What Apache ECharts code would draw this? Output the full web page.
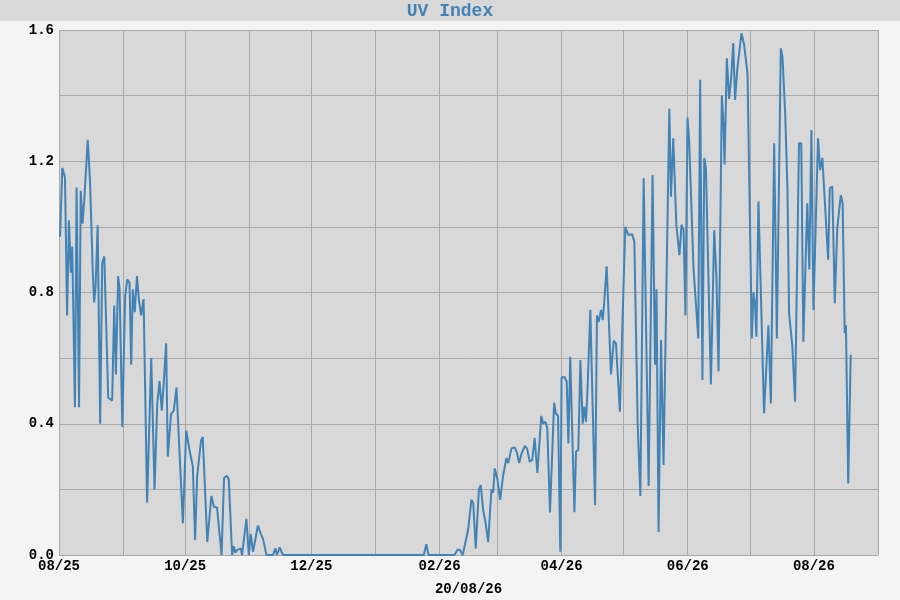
<!DOCTYPE html>
<html>
<head>
<meta charset="utf-8">
<title>UV Index</title>
<script src="https://cdn.jsdelivr.net/npm/echarts@6/dist/echarts.min.js"></script>
<style>
  html, body { margin: 0; padding: 0; background: #f4f4f4; }
  #chart { width: 900px; height: 600px; }
</style>
</head>
<body>
<div id="chart"></div>
<script>
// first sample is 1 Aug 2025, offsets are in days
var startYear = 2025, startMonth = 7, startDay = 1;
var dayOffsets = [
  0.5, 1.6, 2.9, 3.9, 4.8, 5.7, 6.4, 7.7, 8.5, 9.7, 10.5, 11.4, 12.2, 13.9, 15.0, 16.3, 17.0, 17.7, 18.7, 19.9,
  20.9, 21.9, 23.8, 25.7, 26.7, 27.5, 28.6, 29.3, 30.6, 32.0, 33.0, 34.1, 34.9, 35.7, 36.6, 37.7, 38.6, 39.7, 40.9, 42.6,
  44.6, 46.2, 47.5, 48.6, 49.7, 50.6, 51.8, 52.6, 54.2, 55.5, 56.8, 59.9, 61.5, 63.1, 64.7, 65.8, 66.8, 68.7, 69.5, 71.7,
  73.7, 74.9, 76.4, 78.6, 79.8, 81.1, 82.1, 83.7, 84.5, 85.3, 86.1, 87.9, 88.5, 90.6, 91.8, 92.7, 93.8, 96.2, 97.5, 98.6,
  100.3, 103.5, 104.6, 105.4, 106.7, 108.3, 176.4, 177.6, 178.7, 191.2, 192.8, 193.9, 195.2, 196.1, 197.8, 199.4, 200.3, 201.5, 203.0, 203.9,
  205.1, 206.2, 207.5, 209.1, 209.9, 210.7, 212.0, 213.3, 214.7, 216.3, 217.2, 218.8, 220.4, 221.5, 222.5, 223.6, 225.2, 226.3, 227.6, 228.8,
  230.0, 231.3, 232.4, 233.2, 234.1, 235.2, 236.1, 237.4, 239.4, 240.2, 241.3, 242.4, 243.0, 244.4, 245.5, 246.3, 247.2, 249.2, 250.0, 251.1,
  252.1, 253.2, 254.0, 254.8, 255.6, 256.9, 259.2, 260.1, 260.9, 262.1, 262.9, 263.7, 264.8, 266.9, 268.2, 269.3, 271.2, 273.8, 275.3, 277.1,
  278.2, 279.8, 281.1, 282.7, 285.1, 287.0, 288.2, 288.9, 289.9, 291.1, 292.3, 295.1, 295.9, 297.0, 298.5, 299.4, 300.0, 301.0, 302.0, 302.9,
  303.9, 304.7, 306.8, 309.1, 310.0, 311.1, 312.0, 312.8, 315.2, 316.8, 317.9, 318.9, 320.5, 321.3, 321.8, 322.9, 324.0, 325.0, 326.0, 326.9,
  328.0, 330.0, 331.3, 332.9, 335.0, 335.8, 336.5, 337.2, 338.2, 340.9, 343.0, 344.2, 345.8, 347.1, 349.0, 349.8, 351.1, 352.2, 353.0, 354.6,
  355.9, 357.8, 358.9, 359.9, 361.8, 362.8, 363.8, 364.8, 367.0, 368.0, 369.1, 371.9, 372.7, 373.9, 375.1, 376.3, 378.0, 378.9, 379.9, 380.5,
  381.6, 382.8
];
var uvIndex = [
  0.97, 1.18, 1.15, 0.73, 1.02, 0.86, 0.94, 0.45, 1.12, 0.45, 1.11, 1.01, 1.08, 1.265, 1.14, 0.87, 0.77, 0.82, 1.005, 0.40,
  0.89, 0.91, 0.48, 0.47, 0.76, 0.55, 0.85, 0.81, 0.39, 0.79, 0.84, 0.83, 0.58, 0.81, 0.74, 0.85, 0.78, 0.73, 0.78, 0.16,
  0.60, 0.20, 0.46, 0.53, 0.44, 0.52, 0.645, 0.30, 0.43, 0.44, 0.51, 0.097, 0.38, 0.32, 0.27, 0.046, 0.24, 0.35, 0.36, 0.04,
  0.18, 0.147, 0.145, 0.0, 0.234, 0.242, 0.23, 0.0, 0.027, 0.007, 0.015, 0.02, 0.0, 0.11, 0.0, 0.064, 0.01, 0.09, 0.066, 0.05,
  0.0, 0.0, 0.02, 0.0, 0.023, 0.0, 0.0, 0.033, 0.0, 0.0, 0.017, 0.015, 0.0, 0.0, 0.076, 0.168, 0.158, 0.02, 0.198, 0.213,
  0.137, 0.10, 0.04, 0.20, 0.19, 0.264, 0.23, 0.168, 0.24, 0.295, 0.28, 0.325, 0.328, 0.31, 0.28, 0.308, 0.332, 0.325, 0.284, 0.29,
  0.356, 0.25, 0.35, 0.424, 0.40, 0.406, 0.386, 0.13, 0.464, 0.432, 0.424, 0.01, 0.54, 0.543, 0.528, 0.34, 0.604, 0.13, 0.315, 0.32,
  0.594, 0.40, 0.452, 0.406, 0.513, 0.747, 0.152, 0.73, 0.71, 0.747, 0.716, 0.777, 0.88, 0.55, 0.653, 0.645, 0.437, 1.00, 0.975, 0.978,
  0.955, 0.40, 0.18, 1.148, 0.21, 1.158, 0.58, 0.81, 0.07, 0.655, 0.274, 1.36, 1.092, 1.27, 1.006, 1.00, 0.914, 1.006, 0.99, 0.73,
  1.333, 1.26, 0.874, 0.66, 1.448, 0.533, 1.21, 1.18, 0.52, 0.99, 0.843, 0.56, 1.40, 1.31, 1.19, 1.514, 1.39, 1.453, 1.56, 1.387,
  1.483, 1.59, 1.554, 1.468, 0.66, 0.80, 0.77, 0.665, 1.077, 0.432, 0.70, 0.462, 1.255, 0.66, 1.544, 1.519, 1.35, 1.12, 0.737, 0.635,
  0.467, 1.255, 1.255, 0.65, 1.072, 0.87, 1.295, 0.747, 1.27, 1.173, 1.21, 0.90, 1.118, 1.123, 0.767, 0.996, 1.097, 1.072, 0.676, 0.70,
  0.218, 0.61
];
var yMin = 0, yMax = 1.6, yStep = 0.2;
var footerText = '20/08/26';

var chart = echarts.init(document.getElementById('chart'));
var t0 = new Date(startYear, startMonth, startDay).getTime();
var seriesData = dayOffsets.map(function (d, i) {
  return [t0 + d * 86400000, uvIndex[i]];
});
var mono = 'Liberation Mono';

function pad(n) { return (n < 10 ? '0' : '') + n; }

var option = {
  backgroundColor: '#f4f4f4',
  animation: false,
  title: {
    text: 'UV Index',
    left: 'center',
    top: -3,
    textStyle: { color: '#4282b4', fontFamily: mono, fontWeight: 'bold', fontSize: 18, lineHeight: 18 }
  },
  graphic: [{
    type: 'rect',
    z: -10,
    shape: { x: 0, y: 0, width: 900, height: 21 },
    style: { fill: '#d8d8d8' }
  }],
  grid: {
    left: 59,
    right: 22,
    top: 30,
    bottom: 45,
    outerBoundsMode: 'none',
    show: true,
    backgroundColor: '#d8d8d8',
    borderColor: '#e6e6e6',
    borderWidth: 0
  },
  xAxis: {
    type: 'time',
    min: t0,
    max: new Date(2026, 8, 1).getTime(),
    minInterval: 28 * 86400000,
    maxInterval: 31 * 86400000,
    name: footerText,
    nameLocation: 'middle',
    nameGap: 27,
    nameTextStyle: { color: '#000', fontFamily: mono, fontWeight: 'bold', fontSize: 14 },
    axisLine: { show: false },
    axisTick: { show: false },
    splitLine: { show: true, lineStyle: { color: '#a8a8a8', width: 1 } },
    axisLabel: {
      color: '#000',
      fontFamily: mono,
      fontWeight: 'bold',
      fontSize: 14,
      margin: 4,
      showMinLabel: true,
      formatter: function (val) {
        var d = new Date(val);
        var m = d.getMonth() + 1;
        if (m % 2 === 1) return '';
        return pad(m) + '/' + String(d.getFullYear()).slice(2);
      }
    }
  },
  yAxis: {
    type: 'value',
    min: yMin,
    max: yMax,
    interval: yStep,
    axisLine: { show: false },
    axisTick: { show: false },
    splitLine: { show: true, lineStyle: { color: '#a8a8a8', width: 1 } },
    axisLabel: {
      color: '#000',
      fontFamily: mono,
      fontWeight: 'bold',
      fontSize: 14,
      margin: 5,
      formatter: function (v) {
        var k = Math.round(v * 10);
        return k % 4 === 0 ? (k / 10).toFixed(1) : '';
      }
    }
  },
  series: [{
    name: 'UV Index',
    type: 'line',
    showSymbol: false,
    data: seriesData,
    lineStyle: { color: '#4282b4', width: 2 },
    itemStyle: { color: '#4282b4' }
  }]
};
chart.setOption(option);
</script>
</body>
</html>
